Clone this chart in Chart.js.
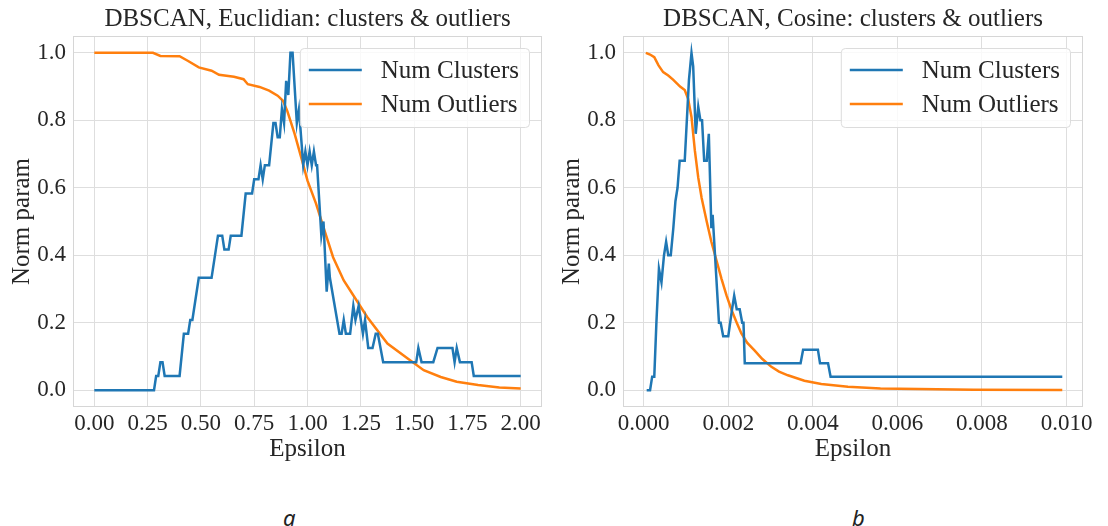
<!DOCTYPE html>
<html>
<head>
<meta charset="utf-8">
<script src="https://cdn.jsdelivr.net/npm/chart.js@4.4.1/dist/chart.umd.min.js"></script>
<style>
  html, body { margin: 0; padding: 0; background: #fff; }
  #fig { position: relative; width: 1108px; height: 526px; overflow: hidden; background: #fff; }
  .box { position: absolute; top: 0; height: 470px; }
  .cap { position: absolute; top: 502px; font: italic 22px "Noto Sans", sans-serif; color: #222; }
</style>
</head>
<body>
<div id="fig">
  <div class="box" style="left:0;width:550px"><canvas id="chartA" width="550" height="470"></canvas></div>
  <div class="box" style="left:550px;width:558px"><canvas id="chartB" width="558" height="470"></canvas></div>
  <div class="cap" style="left:283px">a</div>
  <div class="cap" style="left:852px">b</div>
</div>
<script>
// --- data: Euclidian ---
const epsClustersA = [0, 0.28, 0.29, 0.30, 0.31, 0.32, 0.33, 0.40, 0.42, 0.44, 0.45, 0.46, 0.49, 0.55, 0.58, 0.60, 0.61, 0.63, 0.64, 0.69,
  0.71, 0.74, 0.75, 0.77, 0.78, 0.79, 0.80, 0.82, 0.84, 0.85, 0.86, 0.87, 0.88, 0.89, 0.90, 0.91, 0.92, 0.93, 0.95, 0.96,
  0.98, 0.99, 1.00, 1.01, 1.02, 1.03, 1.04, 1.045, 1.065, 1.075, 1.09, 1.10, 1.105, 1.15, 1.16, 1.17, 1.18, 1.20, 1.215, 1.225,
  1.24, 1.26, 1.27, 1.285, 1.305, 1.32, 1.33, 1.355, 1.51, 1.52, 1.535, 1.59, 1.61, 1.68, 1.69, 1.70, 1.715, 1.77, 1.78, 2.00];
const clustersA = [0, 0, 0.042, 0.042, 0.083, 0.083, 0.042, 0.042, 0.167, 0.167, 0.208, 0.208, 0.333, 0.333, 0.458, 0.458, 0.417, 0.417, 0.458, 0.458,
  0.583, 0.583, 0.625, 0.625, 0.667, 0.625, 0.667, 0.667, 0.792, 0.792, 0.75, 0.75, 0.833, 0.792, 0.917, 0.875, 1.0, 1.0, 0.792, 0.833,
  0.667, 0.708, 0.667, 0.708, 0.667, 0.708, 0.667, 0.667, 0.458, 0.5, 0.292, 0.375, 0.333, 0.167, 0.167, 0.208, 0.167, 0.167, 0.25, 0.208,
  0.25, 0.167, 0.208, 0.125, 0.125, 0.167, 0.167, 0.083, 0.083, 0.125, 0.083, 0.083, 0.125, 0.125, 0.083, 0.125, 0.083, 0.083, 0.042, 0.042];
const epsOutliersA = [0, 0.275, 0.31, 0.40, 0.44, 0.49, 0.55, 0.585, 0.655, 0.70, 0.72, 0.775, 0.82, 0.86, 0.885, 0.905, 0.94, 0.975, 1.0, 1.04,
  1.08, 1.12, 1.17, 1.22, 1.28, 1.375, 1.47, 1.545, 1.625, 1.70, 1.80, 1.90, 2.0];
const outliersA = [1, 1, 0.991, 0.99, 0.976, 0.957, 0.947, 0.935, 0.929, 0.922, 0.907, 0.899, 0.888, 0.873, 0.858, 0.828, 0.759, 0.68, 0.621, 0.553,
  0.473, 0.394, 0.325, 0.276, 0.217, 0.138, 0.094, 0.059, 0.039, 0.025, 0.015, 0.008, 0.005];

// --- data: Cosine ---
const epsClustersB = [0.00007, 0.00015, 0.0002, 0.00025, 0.0003, 0.00036, 0.00042, 0.00048, 0.00053, 0.00058, 0.00064, 0.0007, 0.00075, 0.0008, 0.00085,
  0.00097, 0.00107, 0.00113, 0.00117, 0.00123, 0.00129, 0.00134, 0.00138, 0.00143, 0.00149, 0.00154, 0.0016, 0.00163, 0.00178, 0.00182,
  0.00188, 0.002, 0.00209, 0.00214, 0.0022, 0.00227, 0.00233, 0.00236, 0.00239, 0.00371, 0.00377, 0.00412, 0.00417, 0.00436, 0.00442, 0.0099];
const clustersB = [0, 0, 0.04, 0.04, 0.2, 0.36, 0.32, 0.40, 0.44, 0.40, 0.40, 0.48, 0.56, 0.60, 0.68,
  0.68, 0.92, 1.0, 0.96, 0.76, 0.84, 0.80, 0.80, 0.68, 0.68, 0.76, 0.48, 0.52, 0.20, 0.20,
  0.16, 0.16, 0.24, 0.28, 0.24, 0.24, 0.20, 0.20, 0.08, 0.08, 0.12, 0.12, 0.08, 0.08, 0.04, 0.04];
const epsOutliersB = [0.00005, 0.00015, 0.00025, 0.00035, 0.00046, 0.00058, 0.0007, 0.00086, 0.00097, 0.00105, 0.00113, 0.00121, 0.00129, 0.00137,
  0.00149, 0.0016, 0.00172, 0.00184, 0.00196, 0.00208, 0.0022, 0.00231, 0.00245, 0.00262, 0.0028, 0.00302, 0.0032, 0.00341,
  0.0038, 0.0042, 0.00483, 0.0056, 0.0065, 0.0078, 0.0099];
const outliersB = [1.0, 0.995, 0.987, 0.963, 0.943, 0.933, 0.92, 0.9, 0.89, 0.864, 0.81, 0.71, 0.63, 0.57,
  0.5, 0.44, 0.385, 0.33, 0.28, 0.237, 0.2, 0.168, 0.14, 0.118, 0.093, 0.069, 0.055, 0.044,
  0.028, 0.018, 0.01, 0.005, 0.003, 0.0015, 0.0005];

const yTicks = [0, 0.2, 0.4, 0.6, 0.8, 1.0];
const xTicksA = [0, 0.25, 0.5, 0.75, 1.0, 1.25, 1.5, 1.75, 2.0];
const xTicksB = [0, 0.002, 0.004, 0.006, 0.008, 0.010];

const SERIF = "'Liberation Serif', 'Times New Roman', serif";
const INK = "#262626";
const GRID = "#dedede";
const BLUE = "#1f77b4";
const ORANGE = "#ff7f0e";

const pairs = (xs, ys) => xs.map((x, i) => ({ x: x, y: ys[i] }));

// light frame round the plot + matplotlib-like legend box
const frameLegend = {
  id: "frameLegend",
  afterDraw(chart) {
    const { ctx, chartArea: a } = chart;
    ctx.save();
    ctx.strokeStyle = "#d6d6d6";
    ctx.lineWidth = 1;
    ctx.strokeRect(a.left + 0.5, a.top + 0.5, a.width - 1, a.height - 1);

    ctx.font = "25px " + SERIF;
    const sets = chart.data.datasets;
    const tw = Math.max(...sets.map(d => ctx.measureText(d.label).width));
    const w = 9 + 53 + 19 + tw + 10, h = 79;
    const x = a.right - 13 - w, y = a.top + 12;
    ctx.beginPath();
    ctx.roundRect(x + 0.5, y + 0.5, w, h, 4);
    ctx.fillStyle = "rgba(255,255,255,0.8)";
    ctx.fill();
    ctx.strokeStyle = "#dcdcdc";
    ctx.stroke();
    sets.forEach((d, i) => {
      const cy = y + 22 + i * 34;
      ctx.beginPath();
      ctx.moveTo(x + 9, cy);
      ctx.lineTo(x + 62, cy);
      ctx.strokeStyle = d.borderColor;
      ctx.lineWidth = 2.5;
      ctx.stroke();
      ctx.fillStyle = INK;
      ctx.textBaseline = "middle";
      ctx.fillText(d.label, x + 81, cy + 1);
    });
    ctx.restore();
  }
};

function makeChart(id, title, clusters, outliers, xMin, xMax, xTicks, digits, rightPad) {
  return new Chart(document.getElementById(id), {
    type: "line",
    plugins: [frameLegend],
    data: {
      datasets: [
        { label: "Num Clusters", data: clusters, borderColor: BLUE, borderWidth: 2.5, pointRadius: 0, tension: 0 },
        { label: "Num Outliers", data: outliers, borderColor: ORANGE, borderWidth: 2.5, pointRadius: 0, tension: 0 },
      ],
    },
    options: {
      responsive: false,
      animation: false,
      layout: { padding: { left: 0, top: 0, right: rightPad, bottom: 0 } },
      plugins: {
        legend: { display: false },
        tooltip: { enabled: false },
        title: {
          display: true,
          fullSize: false,
          text: title,
          color: INK,
          font: { family: SERIF, size: 25, weight: "normal" },
          padding: { top: 4, bottom: 2 },
        },
      },
      scales: {
        x: {
          type: "linear",
          min: xMin,
          max: xMax,
          afterBuildTicks: s => { s.ticks = xTicks.map(v => ({ value: v })); },
          afterFit: s => { s.height = 63; },
          border: { display: false },
          grid: { color: GRID, drawTicks: false },
          ticks: {
            color: INK,
            padding: 3,
            maxRotation: 0,
            autoSkip: false,
            font: { family: SERIF, size: 23 },
            callback: v => Number(v).toFixed(digits),
          },
          title: {
            display: true,
            text: "Epsilon",
            color: INK,
            font: { family: SERIF, size: 25 },
            padding: { top: 0, bottom: 6 },
          },
        },
        y: {
          min: -0.05,
          max: 1.05,
          afterBuildTicks: s => { s.ticks = yTicks.map(v => ({ value: v })); },
          afterFit: s => { s.width = 73; },
          border: { display: false },
          grid: { color: GRID, drawTicks: false },
          ticks: {
            color: INK,
            padding: 7,
            font: { family: SERIF, size: 23 },
            callback: v => Number(v).toFixed(1),
          },
          title: {
            display: true,
            text: "Norm param",
            color: INK,
            font: { family: SERIF, size: 25 },
            padding: { top: 7, bottom: 0 },
          },
        },
      },
    },
  });
}

makeChart("chartA", "DBSCAN, Euclidian: clusters & outliers",
  pairs(epsClustersA, clustersA), pairs(epsOutliersA, outliersA), -0.1, 2.1, xTicksA, 2, 8);
makeChart("chartB", "DBSCAN, Cosine: clusters & outliers",
  pairs(epsClustersB, clustersB), pairs(epsOutliersB, outliersB), -0.00049, 0.01039, xTicksB, 3, 25);
</script>
</body>
</html>
